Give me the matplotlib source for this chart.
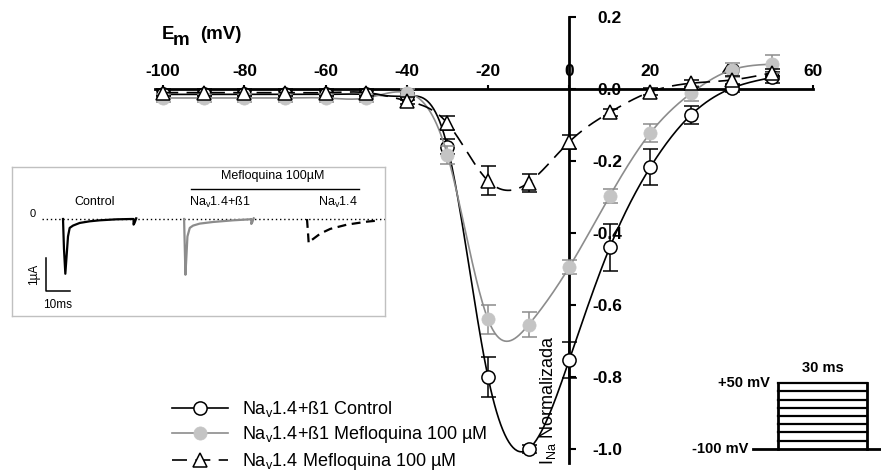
import numpy as np
import matplotlib.pyplot as plt
from matplotlib.lines import Line2D

plt.rcParams['font.family'] = ['Liberation Sans', 'DejaVu Sans']
plt.rcParams['mathtext.fontset'] = 'custom'
plt.rcParams['mathtext.rm'] = 'Liberation Sans'
plt.rcParams['mathtext.it'] = 'Liberation Sans:italic'
plt.rcParams['mathtext.bf'] = 'Liberation Sans:bold'

# --- I-V data, normalised I_Na ---
voltage = [-100, -90, -80, -70, -60, -50, -40, -30, -20, -10, 0, 10, 20, 30, 40, 50]
control = [-0.015, -0.015, -0.015, -0.015, -0.015, -0.015, -0.02, -0.16, -0.80, -1.0,
           -0.753, -0.44, -0.217, -0.072, 0.002, 0.032]
control_err = [0.01, 0.01, 0.01, 0.01, 0.01, 0.01, 0.01, 0.02, 0.055, 0.01,
               0.05, 0.065, 0.05, 0.025, 0.01, 0.015]
mef_b1 = [-0.025, -0.025, -0.025, -0.025, -0.025, -0.025, -0.01, -0.183, -0.64, -0.655,
          -0.495, -0.297, -0.122, -0.012, 0.053, 0.069]
mef_b1_err = [0.01, 0.01, 0.01, 0.01, 0.01, 0.01, 0.01, 0.025, 0.04, 0.035,
              0.02, 0.02, 0.025, 0.02, 0.02, 0.025]
mef_a = [-0.01, -0.01, -0.01, -0.01, -0.01, -0.01, -0.033, -0.095, -0.255, -0.26,
         -0.147, -0.065, -0.008, 0.016, 0.025, 0.045]
mef_a_err = [0.01, 0.01, 0.01, 0.01, 0.01, 0.01, 0.01, 0.02, 0.04, 0.025,
             0.02, 0.01, 0.01, 0.01, 0.01, 0.01]

xticks = [-100, -80, -60, -40, -20, 0, 20, 40, 60]
yticks = [0.2, 0.0, -0.2, -0.4, -0.6, -0.8, -1.0]
ytick_labels = ['0.2', '0.0', '-0.2', '-0.4', '-0.6', '-0.8', '-1.0']

legend_labels = [r'Na$_\mathrm{v}$1.4+ß1 Control',
                 r'Na$_\mathrm{v}$1.4+ß1 Mefloquina 100 µM',
                 r'Na$_\mathrm{v}$1.4 Mefloquina 100 µM']

# --- current traces for the inset (ms from step onset, µA) ---
ctrl_t = [0, 0.4, 0.97, 2.08, 2.78, 4.17, 6.94, 11.1, 15.3, 22.2, 28.5, 29.4, 29.4, 29.8, 30.5]
ctrl_i = [0, -0.9, -1.66, -0.53, -0.27, -0.20, -0.12, -0.07, -0.04, -0.01, 0.0, 0.0, -0.17, -0.12, 0.02]
b1_t = [0, 0.3, 0.56, 1.39, 2.36, 3.75, 6.5, 12.1, 20.4, 27.4, 28.0, 28.0, 28.4, 29.0]
b1_i = [0, -0.9, -1.69, -0.53, -0.27, -0.20, -0.14, -0.09, -0.04, -0.01, 0.0, -0.15, -0.1, 0.02]
a_t = [0, 0.5, 0.7, 2.1, 5.6, 9.7, 16.7, 25.0, 30.6]
a_i = [0, -0.5, -0.73, -0.63, -0.44, -0.30, -0.17, -0.08, -0.04]
trace_start = [21.25, 71.7, 122.9]

# --- voltage protocol ---
step_levels = [-100, -81, -62, -44, -25, -6, 12, 31, 50]
step_ms = 30


def smooth_curve(x, y, n=600):
    # natural cubic spline through the points
    x = np.asarray(x, float)
    y = np.asarray(y, float)
    h = np.diff(x)
    m = len(x)
    A = np.zeros((m, m))
    rhs = np.zeros(m)
    A[0, 0] = A[-1, -1] = 1
    for i in range(1, m - 1):
        A[i, i - 1] = h[i - 1]
        A[i, i] = 2 * (h[i - 1] + h[i])
        A[i, i + 1] = h[i]
        rhs[i] = 6 * ((y[i + 1] - y[i]) / h[i] - (y[i] - y[i - 1]) / h[i - 1])
    M = np.linalg.solve(A, rhs)
    xs = np.linspace(x[0], x[-1], n)
    idx = np.clip(np.searchsorted(x, xs) - 1, 0, m - 2)
    x0, x1 = x[idx], x[idx + 1]
    y0, y1 = y[idx], y[idx + 1]
    m0, m1 = M[idx], M[idx + 1]
    hh = x1 - x0
    t0 = x1 - xs
    t1 = xs - x0
    ys = (m0 * t0 ** 3 + m1 * t1 ** 3) / (6 * hh) + (y0 / hh - m0 * hh / 6) * t0 + (y1 / hh - m1 * hh / 6) * t1
    return xs, ys


W, H = 881, 474
fig = plt.figure(figsize=(W / 100, H / 100), dpi=100)


def px_axes(x0, y0, x1, y1):
    return fig.add_axes([x0 / W, 1 - y1 / H, (x1 - x0) / W, (y1 - y0) / H])


# main I-V axes
ax = px_axes(147, 9.8, 829, 470.6)
ax.set_xlim(-104, 64)
ax.set_ylim(-1.06, 0.22)
ax.patch.set_alpha(0)
for s in ['bottom', 'left']:
    ax.spines[s].set_visible(False)
ax.spines['top'].set_position(('data', 0))
ax.spines['right'].set_position(('data', 0))
ax.spines['top'].set_bounds(-102, 60)
ax.spines['right'].set_bounds(-1.04, 0.2)
ax.spines['top'].set_linewidth(2)
ax.spines['right'].set_linewidth(2)
ax.xaxis.tick_top()
ax.yaxis.tick_right()
ax.set_xticks(xticks)
ax.set_xticklabels([str(v) for v in xticks], fontsize=12.5, fontweight='bold')
ax.set_yticks(yticks)
ax.set_yticklabels(ytick_labels, fontsize=12.5, fontweight='bold', ha='right')
ax.tick_params(axis='x', direction='out', length=3, width=1.5, pad=4.5)
ax.tick_params(axis='y', direction='out', length=5, width=1.5, pad=33)

series = [
    (control, control_err, dict(color='black', lw=1.2), dict(marker='o', mfc='white', mec='black', ms=9.5, mew=1.1), 'black'),
    (mef_b1, mef_b1_err, dict(color='#8c8c8c', lw=1.2), dict(marker='o', mfc='#c4c4c4', mec='#c4c4c4', ms=9.5, mew=0.5), '#8c8c8c'),
    (mef_a, mef_a_err, dict(color='black', lw=1.2, linestyle=(0, (9, 5))), dict(marker='^', mfc='white', mec='black', ms=9.5, mew=1.1), 'black'),
]
handles = []
for k, (vals, err, lstyle, mstyle, ecol) in enumerate(series):
    z = 3 + k
    xs, ys = smooth_curve(voltage, vals)
    ax.plot(xs, ys, zorder=z, **lstyle)
    ax.errorbar(voltage, vals, yerr=err, fmt='none', ecolor=ecol, elinewidth=1.1,
                capsize=5.4, capthick=1.1, zorder=z)
    ax.plot(voltage, vals, linestyle='none', zorder=z + 0.5, **mstyle)
    handles.append(Line2D([], [], **lstyle, **mstyle))

fig.legend(handles, legend_labels, loc='upper left', bbox_to_anchor=(172 / W, 1 - 399 / H),
           frameon=False, fontsize=13, handlelength=3.1, handletextpad=0.8,
           labelspacing=0.3, borderpad=0, borderaxespad=0)

# axis titles
fig.text(162 / W, 1 - 39 / H, 'E', fontsize=13.5, fontweight='bold', va='baseline')
fig.text(173 / W, 1 - 45 / H, 'm', fontsize=13.5, fontweight='bold', va='baseline')
fig.text(200 / W, 1 - 39 / H, '(mV)', fontsize=13.5, fontweight='bold', va='baseline')
fig.text(548 / W, 1 - 400 / H, r'I$_\mathrm{Na}$ Normalizada', fontsize=13, rotation=90,
         ha='center', va='center')

# inset with current traces
ins = px_axes(12, 167, 385, 316)
ins.set_xlim(0, 155.4)
ins.set_ylim(-2.94, 1.576)
ins.set_xticks([])
ins.set_yticks([])
for s in ins.spines.values():
    s.set_color('#c0c0c0')
    s.set_linewidth(1)
ins.plot([12.5, 155.4], [0, 0], color='black', lw=1, linestyle=(0, (1, 2)))
ins.plot(np.array(ctrl_t) + trace_start[0], ctrl_i, color='black', lw=1.6)
ins.plot(np.array(b1_t) + trace_start[1], b1_i, color='#8c8c8c', lw=1.6)
ins.plot(np.array(a_t) + trace_start[2], a_i, color='black', lw=1.6, linestyle=(0, (4, 2.5)))
ins.text(8.75, 0.06, '0', fontsize=8, ha='center', va='baseline')
ins.plot([14, 14, 24], [-1.19, -2.19, -2.19], color='black', lw=1.1)
ins.text(9.2, -1.69, '1µA', fontsize=8.5, rotation=90, ha='center', va='center')
ins.text(18.8, -2.6, '10ms', fontsize=8.5, ha='center', va='center')
ins.text(34.6, 0.515, 'Control', fontsize=9, ha='center', va='center')
ins.text(108.75, 1.30, 'Mefloquina 100µM', fontsize=9, ha='center', va='center')
ins.plot([74.5, 144.7], [0.9, 0.9], color='black', lw=1)
ins.text(86.7, 0.515, r'Na$_\mathrm{v}$1.4+ß1', fontsize=9, ha='center', va='center')
ins.text(135.6, 0.515, r'Na$_\mathrm{v}$1.4', fontsize=9, ha='center', va='center')

# voltage protocol
pr = px_axes(690, 355, 881, 470)
pr.set_xlim((690 - 778) / 2.97, (881 - 778) / 2.97)
pr.set_ylim(-100 - 21 / 0.44, -100 + 94 / 0.44)
pr.axis('off')
pr.plot([-8.4, 34.7], [-100, -100], color='black', lw=2)
for lvl in step_levels[1:]:
    pr.plot([0, step_ms], [lvl, lvl], color='black', lw=1.6)
pr.plot([0, 0], [-100, 50], color='black', lw=2)
pr.plot([step_ms, step_ms], [-100, 50], color='black', lw=2)
pr.text(-2.7, 50, '+50 mV', fontsize=10.5, fontweight='bold', ha='right', va='center')
pr.text(-10, -100, '-100 mV', fontsize=10.5, fontweight='bold', ha='right', va='center')
pr.text(step_ms / 2, 84, '30 ms', fontsize=10.5, fontweight='bold', ha='center', va='center')

fig.savefig('out.png', dpi=100)
